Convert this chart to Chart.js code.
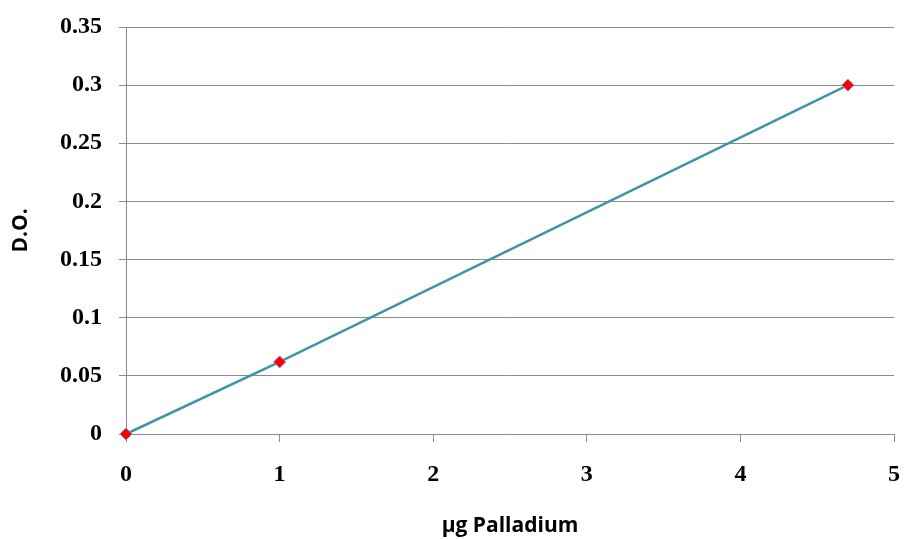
<!DOCTYPE html>
<html>
<head>
<meta charset="utf-8">
<script src="https://cdn.jsdelivr.net/npm/chart.js@4/dist/chart.umd.min.js"></script>
<style>
  html, body { margin: 0; padding: 0; background: #fff; }
  #wrap { width: 904px; height: 539px; }
</style>
</head>
<body>
<div id="wrap"><canvas id="chart" width="904" height="539"></canvas></div>
<script>
// Data
const xValues = [0, 1, 4.7];
const yValues = [0, 0.062, 0.3];
const xTitle = 'µg Palladium';
const yTitle = 'D.O.';

const gridColor = '#8a8a8a';
const tickFont = { family: '"Liberation Serif", "Times New Roman", serif', size: 24, weight: 'bold' };
const titleFont = { family: '"Open Sans", "Noto Sans", sans-serif', size: 21, weight: 'bold' };

const points = xValues.map((x, i) => ({ x: x, y: yValues[i] }));

new Chart(document.getElementById('chart'), {
  type: 'scatter',
  data: {
    datasets: [{
      data: points,
      showLine: true,
      clip: false,
      borderColor: '#3f95a6',
      borderWidth: 2.5,
      pointStyle: 'rectRot',
      pointRadius: 6,
      pointBackgroundColor: '#ff0000',
      pointBorderColor: '#8a7fc0',
      pointBorderWidth: 1,
      tension: 0
    }]
  },
  options: {
    responsive: false,
    animation: false,
    layout: { padding: { top: 27, right: 10, left: 0, bottom: 0 } },
    plugins: {
      legend: { display: false },
      tooltip: { enabled: false }
    },
    scales: {
      x: {
        type: 'linear',
        min: 0,
        max: 5,
        afterFit: s => { s.height = 105; s.paddingLeft = 0; s.paddingRight = 0; },
        ticks: { stepSize: 1, color: '#000', font: tickFont, padding: 18 },
        grid: { drawOnChartArea: false, drawTicks: true, tickLength: 8, color: gridColor },
        border: { display: false },
        title: { display: true, text: xTitle, color: '#000', font: titleFont, padding: { top: 32, bottom: 0 } }
      },
      y: {
        min: 0,
        max: 0.35,
        afterFit: s => { s.width = 126; s.paddingTop = 0; s.paddingBottom = 0; },
        ticks: {
          stepSize: 0.05,
          color: '#000',
          font: tickFont,
          padding: 17,
          callback: v => String(Math.round(v * 100) / 100)
        },
        grid: { drawTicks: true, tickLength: 7, color: gridColor, lineWidth: 1 },
        border: { display: true, color: gridColor },
        title: { display: true, text: yTitle, color: '#000', font: titleFont, padding: { top: 8, bottom: 0 } }
      }
    }
  }
});
</script>
</body>
</html>
